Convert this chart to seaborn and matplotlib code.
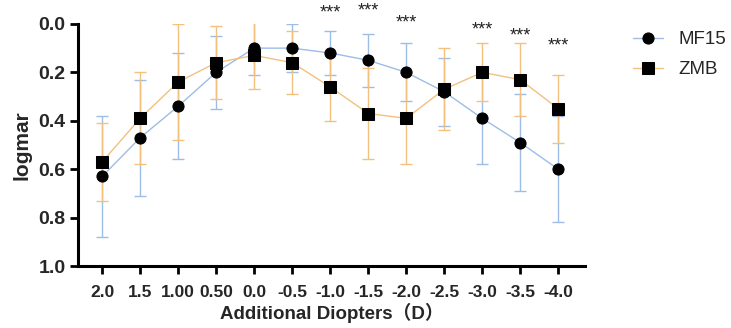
import pandas as pd
import seaborn as sns
import matplotlib.pyplot as plt

# x categories (additional diopters)
diopters = ["2.0", "1.5", "1.00", "0.50", "0.0", "-0.5", "-1.0",
            "-1.5", "-2.0", "-2.5", "-3.0", "-3.5", "-4.0"]

# logMAR means and SDs
mf15_mean = [0.63, 0.47, 0.34, 0.20, 0.10, 0.10, 0.12, 0.15, 0.20, 0.28, 0.39, 0.49, 0.60]
mf15_sd = [0.25, 0.24, 0.22, 0.15, 0.11, 0.10, 0.09, 0.11, 0.12, 0.14, 0.19, 0.20, 0.22]
zmb_mean = [0.57, 0.39, 0.24, 0.16, 0.13, 0.16, 0.26, 0.37, 0.39, 0.27, 0.20, 0.23, 0.35]
zmb_sd = [0.16, 0.19, 0.24, 0.15, 0.14, 0.13, 0.14, 0.19, 0.19, 0.17, 0.12, 0.15, 0.14]

# significance marks: category and height of the "***"
sig_cats = ["-1.0", "-1.5", "-2.0", "-3.0", "-3.5", "-4.0"]
sig_y = [-0.045, -0.055, -0.005, 0.025, 0.05, 0.09]

blue = "#9dbde6"
orange = "#f3c07e"

df = pd.DataFrame({
    "pos": list(range(len(diopters))) * 2,
    "logmar": mf15_mean + zmb_mean,
    "sd": mf15_sd + zmb_sd,
    "group": ["MF15"] * len(diopters) + ["ZMB"] * len(diopters),
})

sns.set_style("white")
plt.rcParams['font.family'] = ['Liberation Sans', 'Noto Sans CJK SC', 'DejaVu Sans']

fig = plt.figure(figsize=(7.31, 3.28), dpi=100)
ax = fig.add_axes([0.107, 0.189, 0.693, 0.738])

styles = {"MF15": (blue, "o"), "ZMB": (orange, "s")}
handles = []
for name, (col, mk) in styles.items():
    d = df[df["group"] == name]
    ax.errorbar(d["pos"], d["logmar"], yerr=d["sd"], fmt="none", ecolor=col,
                elinewidth=1.0, capsize=4, capthick=1.0, zorder=2)
    sns.lineplot(x="pos", y="logmar", data=d, ax=ax, color=col, linewidth=1.0,
                 marker=mk, markersize=8, markerfacecolor="black",
                 markeredgecolor="black", label=name, zorder=3, legend=False)
    handles.append(ax.lines[-1])

for c, y in zip(sig_cats, sig_y):
    ax.text(diopters.index(c), y, "***", ha="center", va="center",
            fontsize=13, color="#222222", clip_on=False)

ax.set_ylim(1.0, 0.0)
ax.set_xlim(-0.63, 12.7)
ax.set_yticks([0.0, 0.2, 0.4, 0.6, 0.8, 1.0])
ax.set_yticklabels(["0.0", "0.2", "0.4", "0.6", "0.8", "1.0"], fontsize=14, fontweight="bold")
ax.set_xticks(range(len(diopters)))
ax.set_xticklabels(diopters, fontsize=12.5, fontweight="bold")
ax.set_xlabel("Additional Diopters（D）", fontsize=13.5, fontweight="bold", labelpad=2)
ax.set_ylabel("logmar", fontsize=15, fontweight="bold", labelpad=5)

sns.despine(ax=ax)
for s in ["left", "bottom"]:
    ax.spines[s].set_linewidth(2.2)
    ax.spines[s].set_color("black")
ax.tick_params(axis="both", direction="out", length=6, width=2, color="black",
               pad=3, bottom=True, left=True)
ax.tick_params(axis="x", pad=8)

fig.legend(handles=handles, labels=["MF15", "ZMB"], loc="upper left",
           bbox_to_anchor=(633 / 731, 1 - 31 / 328), frameon=False, fontsize=13.5,
           handlelength=1.6, handletextpad=0.8, borderpad=0, borderaxespad=0,
           labelspacing=0.7)

fig.savefig("out.png", dpi=100)
